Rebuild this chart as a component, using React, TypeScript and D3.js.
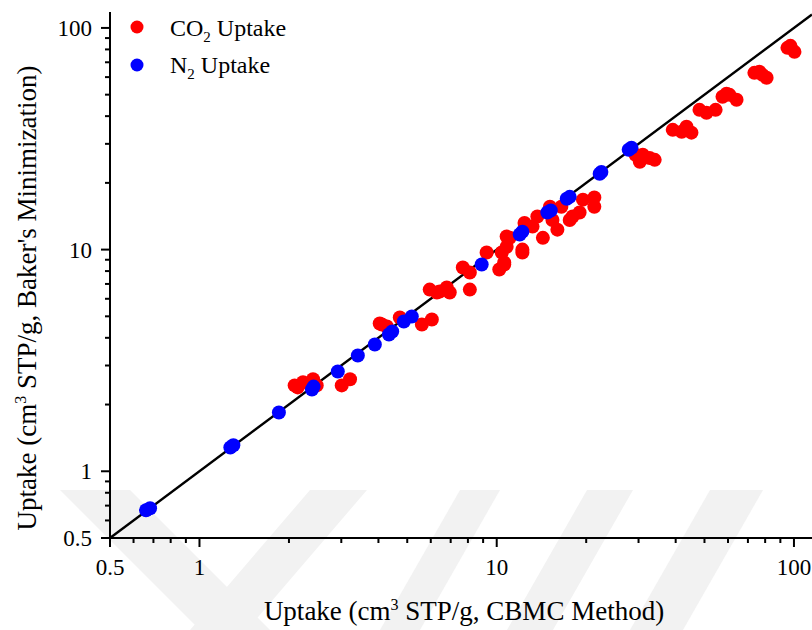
import React from "react";
import * as d3 from "d3";

const n2X = [0.661, 0.682, 1.27, 1.30, 1.85, 2.39, 2.42, 2.92, 3.41, 3.89, 4.34, 4.45, 4.87, 5.18, 8.9, 11.95, 12.2, 14.8, 15.2, 17.2, 17.6, 22.2, 22.5, 27.8, 28.4];
const n2Y = [0.667, 0.681, 1.28, 1.31, 1.84, 2.34, 2.41, 2.82, 3.33, 3.73, 4.14, 4.27, 4.74, 4.99, 8.56, 11.7, 12.05, 14.7, 15.0, 16.97, 17.3, 22.0, 22.4, 28.2, 28.8];

const co2X = [2.09, 2.14, 2.23, 2.41, 2.48, 3.01, 3.21, 4.04, 4.11, 4.27, 4.72, 5.6, 6.05, 5.95, 6.29, 6.43, 6.79, 6.95, 7.69, 8.12, 8.12, 9.25, 10.2, 10.6, 10.4, 10.8, 10.6, 10.8, 11.06, 12.2, 12.2, 12.4, 13.2, 13.7, 14.3, 15.1, 15.4, 16.0, 16.5, 17.6, 18.0, 19.0, 19.5, 21.3, 21.3, 29.3, 30.3, 31.0, 32.7, 34.0, 39.1, 41.9, 43.5, 45.2, 48.1, 50.8, 54.5, 57.5, 59.3, 60.7, 64.1, 73.6, 76.5, 78.4, 80.9, 95.1, 97.3, 100.4];
const co2Y = [2.44, 2.39, 2.52, 2.6, 2.44, 2.44, 2.6, 4.64, 4.59, 4.5, 4.94, 4.59, 4.84, 6.6, 6.4, 6.47, 6.75, 6.4, 8.3, 7.88, 6.6, 9.7, 8.13, 8.56, 9.7, 10.3, 8.74, 11.45, 11.3, 10.0, 9.7, 13.2, 12.7, 14.1, 11.3, 15.6, 13.6, 12.3, 15.6, 13.6, 14.1, 14.7, 16.8, 17.2, 15.6, 26.8, 24.9, 26.8, 25.9, 25.4, 34.7, 34.0, 35.8, 33.7, 42.7, 41.4, 42.7, 48.9, 50.5, 49.9, 47.4, 62.7, 63.4, 61.4, 59.6, 81.3, 83.0, 78.0];

const majorTicks = [0.5, 1, 10, 100];
const tickLabels = ["0.5", "1", "10", "100"];
const minorTicks = [0.6, 0.7, 0.8, 0.9, 2, 3, 4, 5, 6, 7, 8, 9, 20, 30, 40, 50, 60, 70, 80, 90];

const FONT = "'Liberation Serif', 'Times New Roman', serif";

export default function App() {
  const W = 812, H = 630;
  const x = d3.scaleLog().domain([0.5, 115]).range([110, 812]);
  const y = d3.scaleLog().domain([0.5, 118]).range([538, 12]);
  const x0 = x.range()[0];
  const y0 = y.range()[0];
  const diag = d3.line<number>().x((d) => x(d)).y((d) => y(d));
  const r = 7;

  return (
    <svg width={W} height={H} style={{ position: "absolute", left: 0, top: 0, background: "#fff" }} fontFamily={FONT}>
      {/* faint watermark */}
      <g fill="#f2f2f2">
        <polygon points="60,490 130,490 270,630 200,630" />
        <polygon points="310,490 367,490 247,630 190,630" />
        <polygon points="460,490 500,490 420,630 380,630" />
        <polygon points="587,490 633,490 553,630 507,630" />
        <polygon points="710,490 763,490 683,630 630,630" />
      </g>
      {/* diagonal */}
      <path d={diag([0.5, 115]) || ""} stroke="#000" strokeWidth={2.4} fill="none" />
      {/* points */}
      <g fill="#ff0000">
        {co2X.map((v, i) => (
          <circle key={"c" + i} cx={x(v)} cy={y(co2Y[i])} r={r} />
        ))}
      </g>
      <g fill="#0000ff">
        {n2X.map((v, i) => (
          <circle key={"n" + i} cx={x(v)} cy={y(n2Y[i])} r={r} />
        ))}
      </g>
      {/* axes */}
      <line x1={x0} x2={812} y1={y0} y2={y0} stroke="#000" strokeWidth={2} />
      <line x1={x0} x2={x0} y1={y0 + 1} y2={y.range()[1]} stroke="#000" strokeWidth={2} />
      {majorTicks.map((t, i) => (
        <g key={"mx" + i}>
          <line x1={x(t)} x2={x(t)} y1={y0} y2={y0 + 9} stroke="#000" strokeWidth={2} />
          <text x={x(t)} y={575} textAnchor="middle" fontSize={23}>{tickLabels[i]}</text>
          <line x1={x0} x2={x0 - 9} y1={y(t)} y2={y(t)} stroke="#000" strokeWidth={2} />
          <text x={92} y={y(t)} dy="0.35em" textAnchor="end" fontSize={23}>{tickLabels[i]}</text>
        </g>
      ))}
      {minorTicks.map((t, i) => (
        <g key={"mn" + i}>
          {x(t) <= 812 && <line x1={x(t)} x2={x(t)} y1={y0} y2={y0 + 5} stroke="#000" strokeWidth={2} />}
          <line x1={x0} x2={x0 - 5} y1={y(t)} y2={y(t)} stroke="#000" strokeWidth={2} />
        </g>
      ))}
      {/* axis titles */}
      <text x={464} y={620} textAnchor="middle" fontSize={27}>
        Uptake (cm<tspan dy={-10} fontSize={16}>3</tspan><tspan dy={10}> STP/g, CBMC Method)</tspan>
      </text>
      <text transform="translate(36,298) rotate(-90)" textAnchor="middle" fontSize={27}>
        Uptake (cm<tspan dy={-10} fontSize={16}>3</tspan><tspan dy={10}> STP/g, Baker's Minimization)</tspan>
      </text>
      {/* legend */}
      <circle cx={137} cy={27} r={6.5} fill="#ff0000" />
      <text x={170} y={36} fontSize={24}>
        CO<tspan dy={6} fontSize={15}>2</tspan><tspan dy={-6}> Uptake</tspan>
      </text>
      <circle cx={137} cy={65} r={6.5} fill="#0000ff" />
      <text x={170} y={73} fontSize={24}>
        N<tspan dy={6} fontSize={15}>2</tspan><tspan dy={-6}> Uptake</tspan>
      </text>
    </svg>
  );
}
